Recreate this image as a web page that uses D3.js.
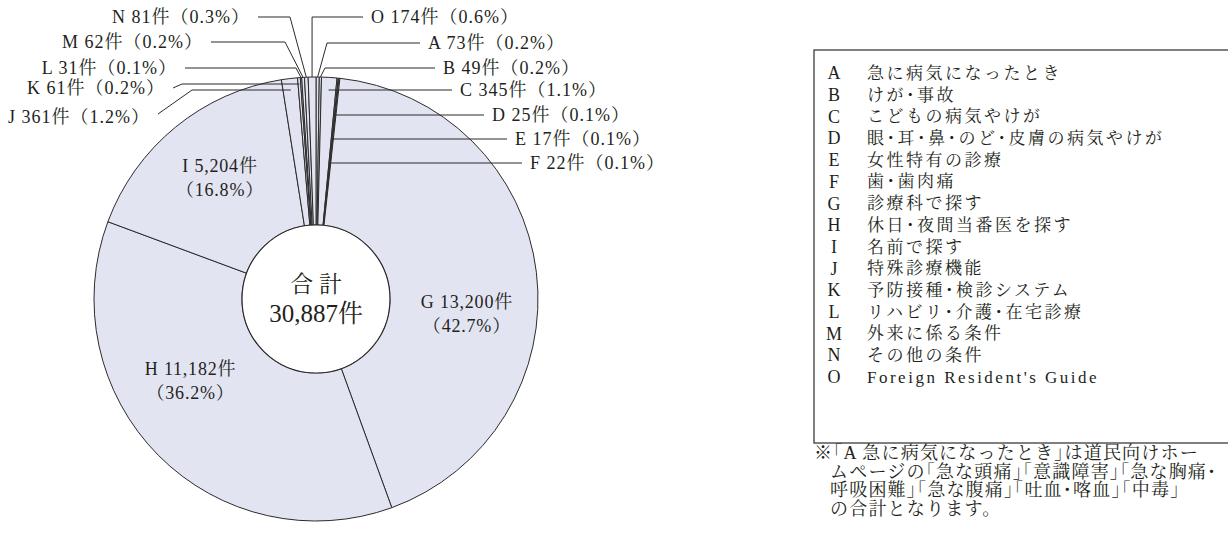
<!DOCTYPE html>
<html>
<head>
<meta charset="utf-8">
<script src="https://cdn.jsdelivr.net/npm/d3@7"></script>
<style>
html, body { margin: 0; padding: 0; background: #fff; }
svg { display: block; }
text { font-family: "Liberation Serif", "Noto Serif CJK JP", "Noto Sans CJK JP", serif; fill: #231f20; }
.halt { font-feature-settings: "halt"; }
</style>
</head>
<body>
<svg id="chart" width="1228" height="540"></svg>
<script>
// Categories, counts and legend descriptions
const CATEGORIES = ['A', 'B', 'C', 'D', 'E', 'F', 'G', 'H', 'I', 'J', 'K', 'L', 'M', 'N', 'O'];
const COUNTS = [73, 49, 345, 25, 17, 22, 13200, 11182, 5204, 361, 61, 31, 62, 81, 174];
const DESCRIPTIONS = [
    '急に病気になったとき', 'けが・事故', 'こどもの病気やけが',
    '眼・耳・鼻・のど・皮膚の病気やけが', '女性特有の診療', '歯・歯肉痛',
    '診療科で探す', '休日・夜間当番医を探す', '名前で探す', '特殊診療機能',
    '予防接種・検診システム', 'リハビリ・介護・在宅診療', '外来に係る条件',
    'その他の条件', "Foreign Resident's Guide"
];
const CENTER_TITLE = '合 計';
const NOTE_LINES = [
    '※「A 急に病気になったとき」は道民向けホー',
    'ムページの「急な頭痛」「意識障害」「急な胸痛・',
    '呼吸困難」「急な腹痛」「吐血・喀血」「中毒」',
    'の合計となります。'
];

// Layout of the outside labels (text anchor, leader row, elbows)
const OUTSIDE = {
    O: { side: 'r', tx: 371, ty: 17, bx: null },
    A: { side: 'r', tx: 428, ty: 43, bx: 327 },
    B: { side: 'r', tx: 443, ty: 68, bx: 325 },
    C: { side: 'r', tx: 460, ty: 90 },
    D: { side: 'r', tx: 492, ty: 115 },
    E: { side: 'r', tx: 515, ty: 139 },
    F: { side: 'r', tx: 530, ty: 163 },
    J: { side: 'l', tx: 150, ty: 117, ly: 90, ex: 192, sy: -3 },
    K: { side: 'l', tx: 165, ty: 88, ly: 84, ex: 182, sy: 0 },
    L: { side: 'l', tx: 177, ty: 68, bx: 296 },
    M: { side: 'l', tx: 203, ty: 42, bx: 285 },
    N: { side: 'l', tx: 250, ty: 17, bx: 290 }
};
// Inside labels: nudges from the centroid at LABEL_R
const INSIDE = { G: [2, 33], H: [-19, -24], I: [-1, -5] };

const W = 1228, H = 540;
const cx = 316, cy = 299, R = 222, R0 = 74, LABEL_R = 150;
const FILL = '#e3e4f2', STROKE = '#2b2b2b';

const svg = d3.select('#chart');
const data = CATEGORIES.map((k, i) => ({ key: k, count: COUNTS[i], desc: DESCRIPTIONS[i] }));
const total = d3.sum(data, d => d.count);
const fmtCount = d3.format(',');
const fmtPct = d3.format('.1f');

const pie = d3.pie().sort(null).value(d => d.count);
const arcs = pie(data);
const arc = d3.arc().innerRadius(R0).outerRadius(R);

const g = svg.append('g').attr('transform', `translate(${cx},${cy})`);

g.selectAll('path.slice')
    .data(arcs)
    .join('path')
    .attr('class', 'slice')
    .attr('d', arc)
    .attr('fill', FILL)
    .attr('stroke', STROKE)
    .attr('stroke-width', 1)
    .attr('stroke-linejoin', 'round');

g.append('circle')
    .attr('r', R0)
    .attr('fill', '#fff')
    .attr('stroke', STROKE)
    .attr('stroke-width', 1.2);

g.append('text')
    .attr('text-anchor', 'middle')
    .attr('y', -15)
    .attr('dy', '0.35em')
    .attr('font-size', 23)
    .text(CENTER_TITLE);
g.append('text')
    .attr('text-anchor', 'middle')
    .attr('y', 14)
    .attr('dy', '0.35em')
    .attr('font-size', 25)
    .text(fmtCount(total) + '件');

// point on the mid ray of a slice, at page row y; clipped to the outer arc
function target(a, y) {
    const mid = (a.startAngle + a.endAngle) / 2;
    const dy = cy - y;
    const x = cx + dy * Math.tan(mid);
    if (dy > 0 && Math.hypot(x - cx, dy) <= R) return { x, y, inside: true };
    return { x: cx + R * Math.sin(mid), y: cy - R * Math.cos(mid), inside: false };
}

const lead = svg.append('g').attr('class', 'leaders');
const labels = svg.append('g').attr('class', 'labels');
const line = d3.line();
const GAP = 8;

arcs.forEach(a => {
    const d = a.data;
    const pct = fmtPct(d.count / total * 100);
    const o = OUTSIDE[d.key];
    if (o) {
        const ly = o.ly != null ? o.ly : o.ty;
        const t = target(a, ly);
        const pts = [];
        if (o.side === 'r') {
            pts.push([o.tx - GAP, ly]);
        } else {
            pts.push([o.tx + GAP, o.ty + (o.sy || 0)]);
            if (o.ex != null) pts.push([o.ex, ly]);
        }
        if (!t.inside) pts.push([o.bx != null ? o.bx : t.x, ly]);
        pts.push([t.x, t.y]);
        lead.append('path')
            .attr('d', line(pts))
            .attr('fill', 'none')
            .attr('stroke', STROKE)
            .attr('stroke-width', 1);
        labels.append('text')
            .attr('x', o.tx)
            .attr('y', o.ty)
            .attr('dy', '0.35em')
            .attr('text-anchor', o.side === 'r' ? 'start' : 'end')
            .attr('font-size', 18)
            .attr('letter-spacing', 1)
            .text(`${d.key} ${fmtCount(d.count)}件（${pct}%）`);
    } else if (INSIDE[d.key]) {
        const mid = (a.startAngle + a.endAngle) / 2;
        const x = cx + LABEL_R * Math.sin(mid) + INSIDE[d.key][0];
        const y = cy - LABEL_R * Math.cos(mid) + INSIDE[d.key][1];
        const t = labels.append('text')
            .attr('text-anchor', 'middle')
            .attr('font-size', 18)
            .attr('letter-spacing', 0.8);
        t.append('tspan').attr('x', x).attr('y', y - 12).attr('dy', '0.35em')
            .text(`${d.key} ${fmtCount(d.count)}件`);
        t.append('tspan').attr('x', x).attr('y', y + 12).attr('dy', '0.35em')
            .text(`（${pct}%）`);
    }
});

// Legend box
const LEG_X = 814, LEG_Y = 50, LEG_H = 393, ROW = 21.7;
const leg = svg.append('g').attr('class', 'legend');
leg.append('rect')
    .attr('x', LEG_X).attr('y', LEG_Y)
    .attr('width', W - LEG_X + 20).attr('height', LEG_H)
    .attr('fill', '#fff')
    .attr('stroke', STROKE)
    .attr('stroke-width', 1.2);

const rowY = d3.scalePoint().domain(CATEGORIES).range([73, 73 + ROW * (CATEGORIES.length - 1)]);

data.forEach(d => {
    const y = rowY(d.key);
    leg.append('text')
        .attr('x', 834).attr('y', y).attr('dy', '0.35em')
        .attr('text-anchor', 'middle')
        .attr('font-size', 18)
        .text(d.key);
    // middle dots set half-width like the print original
    leg.append('text')
        .attr('class', 'halt')
        .attr('x', 867).attr('y', y).attr('dy', '0.35em')
        .attr('font-size', 17)
        .attr('letter-spacing', 2.5)
        .text(d.desc);
});

// Footnote
NOTE_LINES.forEach((s, i) => {
    svg.append('text')
        .attr('class', 'halt')
        .attr('x', i === 0 ? 814 : 830)
        .attr('y', 453 + i * 18.5)
        .attr('dy', '0.35em')
        .attr('font-size', 18)
        .attr('letter-spacing', 1.2)
        .text(s);
});
</script>
</body>
</html>
